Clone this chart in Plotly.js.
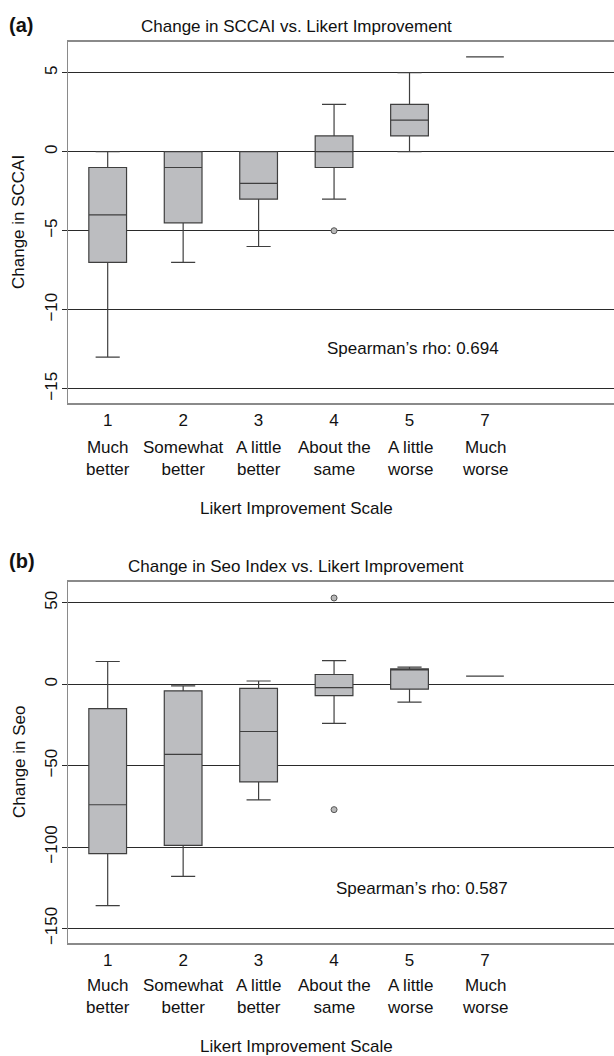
<!DOCTYPE html>
<html>
<head>
<meta charset="utf-8">
<script src="https://cdn.plot.ly/plotly-3.0.1.min.js"></script>
<style>html,body{margin:0;padding:0;background:#fff;}#chart{width:614px;height:1056px;}</style>
</head>
<body>
<div id="chart"></div>
<script>
// ---- data ----
var categories = ["1", "2", "3", "4", "5", "7"];
var descriptions = ["Much<br>better", "Somewhat<br>better", "A little<br>better", "About the<br>same", "A little<br>worse", "Much<br>worse"];

// Panel (a): change in SCCAI
var sccaiLower  = [-13, -7, -6, -3, 0, 6];
var sccaiQ1     = [-7, -4.5, -3, -1, 1, 6];
var sccaiMedian = [-4, -1, -2, 0, 2, 6];
var sccaiQ3     = [-1, 0, 0, 1, 3, 6];
var sccaiUpper  = [0, 0, 0, 3, 5, 6];
var sccaiOutlierCat = ["4"];
var sccaiOutlierVal = [-5];
var sccaiTicks = [5, 0, -5, -10, -15];

// Panel (b): change in Seo index
var seoLower  = [-136, -118, -71, -24, -11, 5];
var seoQ1     = [-104, -99, -60, -7, -3, 5];
var seoMedian = [-74, -43, -29, -2, 9, 5];
var seoQ3     = [-15, -4, -2.5, 6, 9.5, 5];
var seoUpper  = [14, -1, 2, 14.5, 10.5, 5];
var seoOutlierCat = ["4", "4"];
var seoOutlierVal = [53, -77];
var seoTicks = [50, 0, -50, -100, -150];

// ---- helpers ----
var W = 614, H = 1056, L = 68;
function px(x){ return (x - L) / (W - L); }
function py(y){ return 1 - y / H; }
var pos = categories.map(function(c, i){ return i + 1; });
function posOf(c){ return categories.indexOf(c) + 1; }

var FONT = "Liberation Sans, Arial, Helvetica, sans-serif";
var FS = 17;
var boxFill = "#bcbdc0", boxLine = "#3f3f3f", gridCol = "#2a2a2a", frameCol = "#8a8a8a";

function boxTrace(lo, q1, med, q3, up, xa, ya){
  return {
    type: "box", x: pos, lowerfence: lo, q1: q1, median: med, q3: q3, upperfence: up,
    xaxis: xa, yaxis: ya, width: 0.5, whiskerwidth: 0.64,
    fillcolor: boxFill, line: {color: boxLine, width: 1.2},
    boxpoints: false, hoverinfo: "skip", showlegend: false
  };
}
function outTrace(cats, vals, xa, ya){
  return {
    type: "scatter", mode: "markers", x: cats.map(posOf), y: vals, xaxis: xa, yaxis: ya,
    marker: {symbol: "circle", size: 6, color: "#b8b8b8", line: {color: "#555", width: 1}},
    hoverinfo: "skip", showlegend: false
  };
}

var data = [
  boxTrace(sccaiLower, sccaiQ1, sccaiMedian, sccaiQ3, sccaiUpper, "x", "y"),
  outTrace(sccaiOutlierCat, sccaiOutlierVal, "x", "y"),
  boxTrace(seoLower, seoQ1, seoMedian, seoQ3, seoUpper, "x2", "y2"),
  outTrace(seoOutlierCat, seoOutlierVal, "x2", "y2")
];

function xAxis(anchor){
  return {
    anchor: anchor, domain: [0, 1], range: [0.474, 7.71], fixedrange: true,
    tickmode: "array", tickvals: pos, ticktext: categories,
    ticks: "", showgrid: false, zeroline: false,
    showline: true, mirror: true, linecolor: frameCol, linewidth: 1.5,
    tickfont: {family: FONT, size: FS, color: "#111"}, ticklabelstandoff: 1
  };
}
function yAxis(anchor, dom, rng, tv){
  return {
    anchor: anchor, domain: dom, range: rng, fixedrange: true,
    tickmode: "array", tickvals: tv, tickangle: -90,
    ticks: "outside", ticklen: 5, tickcolor: gridCol, tickwidth: 1,
    showgrid: true, gridcolor: gridCol, gridwidth: 1, zeroline: false,
    showline: true, mirror: false, linecolor: frameCol, linewidth: 1.5,
    tickfont: {family: FONT, size: FS, color: "#111"}, ticklabelstandoff: -2
  };
}

function ann(text, x, y, opts){
  var a = {text: text, xref: "paper", yref: "paper", x: px(x), y: py(y),
           showarrow: false, xanchor: "center", yanchor: "middle",
           font: {family: FONT, size: FS, color: "#111"}};
  for (var k in opts) a[k] = opts[k];
  return a;
}
var labelFont = {family: FONT, size: 20, color: "#111"};

var annotations = [
  ann("<b>(a)</b>", 7, 25, {xanchor: "left", font: labelFont}),
  ann("Change in SCCAI vs. Likert Improvement", 296.5, 26),
  ann("Change in SCCAI", 19, 222, {textangle: -90}),
  ann("Spearman\u2019s rho: 0.694", 501, 348, {xanchor: "right"}),
  ann("Likert Improvement Scale", 296, 508),
  ann("<b>(b)</b>", 7, 561, {xanchor: "left", font: labelFont}),
  ann("Change in Seo Index vs. Likert Improvement", 295.5, 566),
  ann("Change in Seo", 19, 762, {textangle: -90}),
  ann("Spearman\u2019s rho: 0.587", 510, 888, {xanchor: "right"}),
  ann("Likert Improvement Scale", 296, 1046)
];
descriptions.forEach(function(d, i){
  [["x", 458.5], ["x2", 996.5]].forEach(function(p){
    annotations.push({text: d, xref: p[0], yref: "paper", x: pos[i], y: py(p[1]),
      showarrow: false, xanchor: "center", yanchor: "middle", align: "center",
      font: {family: FONT, size: FS, color: "#111"}});
  });
});

var layout = {
  width: W, height: H,
  margin: {l: L, r: 0, t: 0, b: 0, autoexpand: false},
  paper_bgcolor: "#fff", plot_bgcolor: "#fff",
  showlegend: false,
  xaxis: xAxis("y"),
  yaxis: yAxis("x", [py(403.3), py(41.7)], [-15.92, 6.96], sccaiTicks),
  xaxis2: xAxis("y2"),
  yaxis2: yAxis("x2", [py(943.3), py(581.7)], [-159.1, 63.0], seoTicks),
  annotations: annotations
};

Plotly.newPlot("chart", data, layout, {staticPlot: true, displayModeBar: false});
</script>
</body>
</html>
